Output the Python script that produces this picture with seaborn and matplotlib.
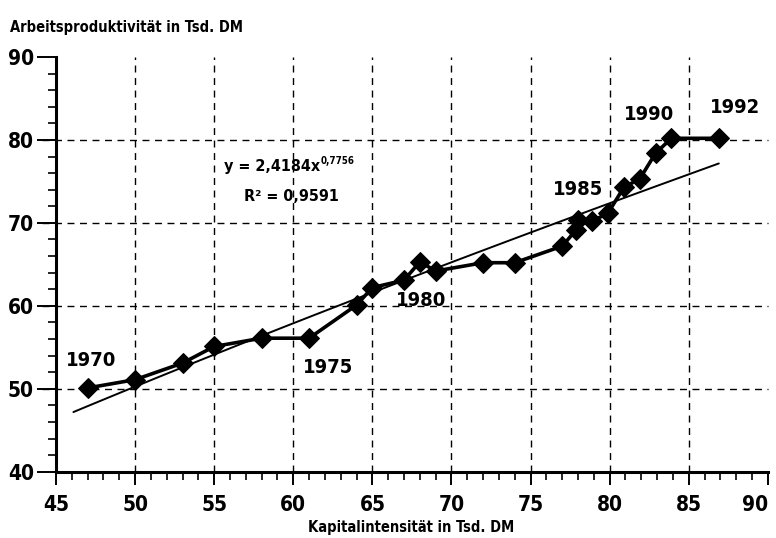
import numpy as np
import pandas as pd
import matplotlib
matplotlib.use("Agg")
import matplotlib.pyplot as plt
import seaborn as sns
from matplotlib.ticker import MultipleLocator

sns.set_style("white")
plt.rcParams['font.family'] = ['DejaVu Sans']
plt.rcParams['font.stretch'] = 'condensed'
plt.rcParams['font.weight'] = 'bold'
plt.rcParams['text.color'] = 'k'
plt.rcParams['xtick.color'] = 'k'
plt.rcParams['ytick.color'] = 'k'

# Kapitalintensitaet (x) und Arbeitsproduktivitaet (y), 1970-1992
years = list(range(1970, 1993))
kapital = [47.0, 50.0, 53.0, 55.0, 58.0, 61.0, 64.0, 65.0, 67.0, 68.0, 69.0, 72.0,
           74.0, 77.0, 77.9, 78.0, 78.9, 79.9, 80.9, 81.9, 82.9, 83.9, 86.9]
produktiv = [50.1, 51.1, 53.1, 55.1, 56.1, 56.1, 60.1, 62.2, 63.1, 65.3, 64.2, 65.2,
             65.2, 67.2, 69.2, 70.3, 70.2, 71.2, 74.3, 75.3, 78.4, 80.2, 80.2]

# Trendlinie (Potenzfunktion), Koeffizienten laut Beschriftung
fit_a = 2.4184
fit_b = 0.7756
fit_x_range = [46.1, 86.9]

label_years = [1970, 1975, 1980, 1985, 1990, 1992]
label_pos = [(47.2, 53.4), (62.2, 52.6), (68.1, 60.6), (78.0, 74.0), (82.5, 83.1), (87.9, 83.9)]

x_ticks = list(range(45, 91, 5))
y_ticks = list(range(40, 91, 10))

df = pd.DataFrame({'Jahr': years, 'Kapital': kapital, 'Produktivitaet': produktiv})

fig = plt.figure(figsize=(7.76, 5.38), dpi=100)
ax = fig.add_axes([0.0722, 0.1232, 0.9173, 0.7708])

# grid first, behind lines
for xv in x_ticks[1:-1]:
    ax.axvline(xv, color='k', lw=1.0, ls=(0, (5, 4)), zorder=0)
for yv in y_ticks[1:-1]:
    ax.axhline(yv, color='k', lw=1.0, ls=(0, (5, 4)), zorder=0, xmin=-0.02, clip_on=False)

xs = np.linspace(fit_x_range[0], fit_x_range[1], 100)
sns.lineplot(x=xs, y=fit_a * xs ** fit_b, color='k', lw=1.4, ax=ax, zorder=2)

sns.lineplot(data=df, x='Kapital', y='Produktivitaet', sort=False, estimator=None,
             color='k', lw=2.6, marker='D', markersize=10, markeredgecolor='k',
             markerfacecolor='k', ax=ax, zorder=3)

for yr, (lx, ly) in zip(label_years, label_pos):
    ax.text(lx, ly, str(yr), ha='center', va='center', fontsize=14.5, fontweight='bold')

# Gleichung mit hochgestelltem Exponenten
ax.text(61.69, 76.75, 'y = 2,4184x', ha='right', va='center', fontsize=11.5, fontweight='bold')
ax.annotate('0,7756', xy=(61.69, 76.75), xytext=(0.5, 4.5), textcoords='offset points',
            ha='left', va='center', fontsize=7, fontweight='bold')
ax.text(59.9, 73.2, 'R² = 0,9591', ha='center', va='center', fontsize=11.5, fontweight='bold')

ax.set_xlim(45, 90)
ax.set_ylim(40, 90)
ax.set_xticks(x_ticks)
ax.set_yticks(y_ticks)
ax.xaxis.set_minor_locator(MultipleLocator(1))
ax.yaxis.set_minor_locator(MultipleLocator(2))
ax.tick_params(axis='both', which='major', direction='out', labelsize=15, width=1.4,
               color='k', bottom=True, left=True)
ax.tick_params(axis='x', which='major', length=9, pad=8)
ax.tick_params(axis='y', which='major', length=14, pad=2)
ax.tick_params(axis='both', which='minor', direction='out', length=6, width=1.2,
               color='k', bottom=True, left=True)
xlabels = ax.get_xticklabels()
for lab in xlabels + ax.get_yticklabels():
    lab.set_fontweight('bold')
# last x label sits at the figure edge
xlabels[-1].set_horizontalalignment('right')
xlabels[-1].set_x(90.2)

for loc in ['top', 'right']:
    ax.spines[loc].set_visible(False)
for loc in ['left', 'bottom']:
    ax.spines[loc].set_linewidth(2.2)
    ax.spines[loc].set_color('k')

ax.set_xlabel('')
ax.set_ylabel('')
fig.text(0.0129, 0.948, 'Arbeitsproduktivität in Tsd. DM', ha='left', va='center',
         fontsize=10.5, fontweight='bold')
fig.text(0.53, 0.019, 'Kapitalintensität in Tsd. DM', ha='center', va='center',
         fontsize=10.5, fontweight='bold')

fig.savefig('out.png', dpi=100)
